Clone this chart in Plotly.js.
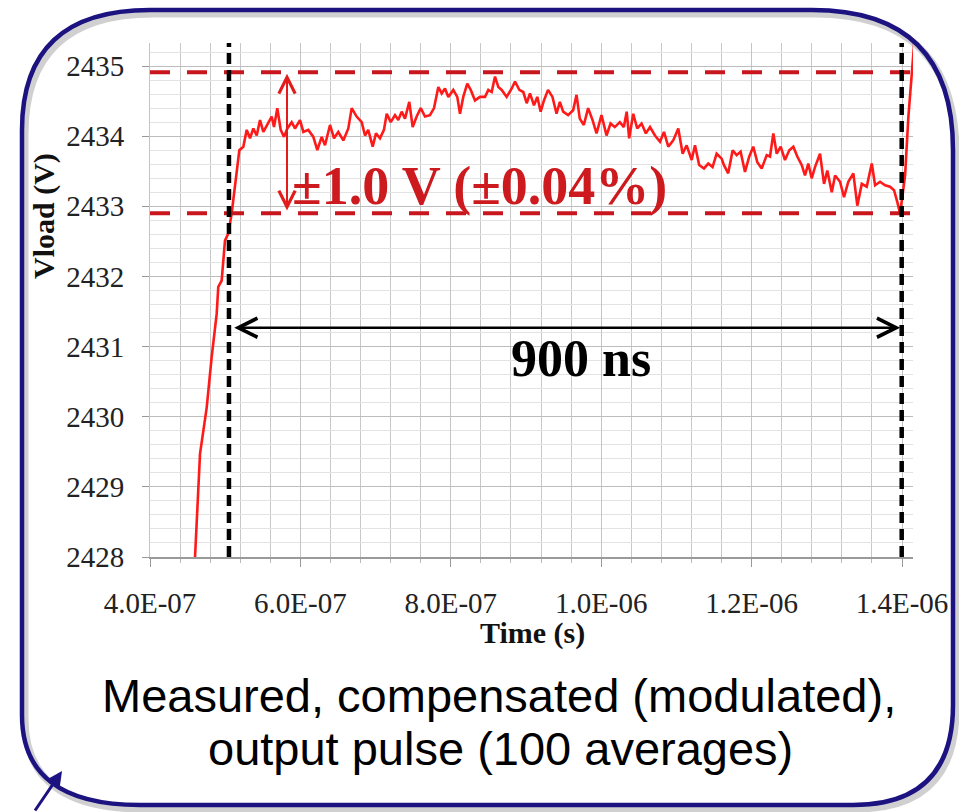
<!DOCTYPE html>
<html>
<head>
<meta charset="utf-8">
<script src="https://cdn.plot.ly/plotly-3.0.1.min.js"></script>
<style>html,body{margin:0;padding:0;background:#fff;}#chart{width:959px;height:812px;}</style>
</head>
<body>
<div id="chart"></div>
<script>
// ---- data (time in ns, voltage in V) ----
const timeNs = [455.9, 459.8, 466.5, 475.4, 482.0, 488.7, 490.8, 495.3, 499.7, 504.1,
  508.6, 511.7, 518.8, 524.1, 528.6, 533.0, 537.4, 541.9, 546.3, 550.7,
  555.9, 561.8, 564.9, 569.3, 573.8, 578.2, 582.6, 588.4, 592.8, 599.5,
  603.9, 610.5, 617.2, 622.5, 628.3, 632.7, 639.4, 644.7, 650.4, 657.1,
  663.7, 668.2, 674.8, 681.5, 685.9, 690.2, 696.1, 700.5, 705.8, 711.1,
  714.8, 720.1, 725.8, 730.2, 734.7, 739.1, 744.8, 749.3, 754.6, 760.0,
  765.7, 772.3, 777.7, 783.4, 787.9, 792.3, 796.7, 803.3, 808.6, 812.2,
  816.6, 821.9, 826.5, 832.2, 838.8, 845.5, 849.9, 854.4, 858.8, 863.2,
  867.7, 874.3, 881.0, 885.4, 891.1, 896.4, 900.9, 905.3, 910.6, 915.0,
  919.5, 923.9, 929.3, 935.2, 940.6, 945.0, 949.4, 956.0, 962.7, 967.2,
  971.5, 976.9, 982.6, 988.5, 993.8, 1000.4, 1007.1, 1012.4, 1018.1, 1024.8,
  1030.1, 1033.9, 1037.2, 1042.6, 1047.9, 1053.7, 1059.4, 1064.9, 1071.5, 1078.2,
  1083.5, 1089.2, 1095.8, 1102.5, 1108.3, 1113.6, 1120.3, 1124.7, 1130.3, 1136.7,
  1142.4, 1148.1, 1153.5, 1160.2, 1163.1, 1168.9, 1174.8, 1180.1, 1185.4, 1191.2,
  1196.9, 1202.2, 1207.6, 1213.4, 1220.1, 1224.5, 1228.9, 1233.4, 1238.7, 1244.4,
  1250.1, 1255.5, 1260.8, 1266.6, 1271.0, 1275.4, 1279.9, 1284.3, 1291.0, 1296.3,
  1300.7, 1306.6, 1311.0, 1317.6, 1322.9, 1328.6, 1335.3, 1340.6, 1346.5, 1353.1,
  1359.8, 1364.2, 1370.8, 1377.5, 1384.1, 1389.4, 1393.8, 1397.4, 1401.0, 1404.1,
  1408.5, 1413.0, 1417.5];
const vload = [2427.37, 2427.98, 2429.47, 2430.13, 2430.85, 2431.47, 2431.85, 2431.94, 2432.51, 2432.61,
  2432.90, 2433.16, 2433.80, 2433.85, 2434.09, 2433.97, 2434.11, 2434.01, 2434.23, 2434.06,
  2434.16, 2434.28, 2434.13, 2434.40, 2434.09, 2433.99, 2434.11, 2434.20, 2434.11, 2434.23,
  2434.06, 2434.09, 2433.99, 2433.80, 2433.99, 2433.87, 2434.16, 2433.97, 2434.06, 2433.94,
  2434.11, 2434.40, 2434.28, 2434.20, 2434.01, 2434.09, 2433.85, 2434.04, 2433.97, 2434.09,
  2434.32, 2434.20, 2434.30, 2434.23, 2434.35, 2434.25, 2434.49, 2434.13, 2434.28, 2434.40,
  2434.28, 2434.30, 2434.40, 2434.70, 2434.61, 2434.68, 2434.56, 2434.66, 2434.56, 2434.32,
  2434.56, 2434.75, 2434.66, 2434.51, 2434.56, 2434.56, 2434.66, 2434.63, 2434.85, 2434.70,
  2434.66, 2434.56, 2434.68, 2434.78, 2434.66, 2434.63, 2434.47, 2434.61, 2434.44, 2434.56,
  2434.35, 2434.51, 2434.66, 2434.56, 2434.32, 2434.49, 2434.35, 2434.30, 2434.37, 2434.59,
  2434.25, 2434.16, 2434.40, 2434.23, 2434.04, 2434.30, 2434.01, 2434.18, 2434.13, 2434.20,
  2434.13, 2434.35, 2433.97, 2434.32, 2434.11, 2434.18, 2434.04, 2434.13, 2434.01, 2433.92,
  2434.06, 2433.85, 2433.94, 2434.11, 2433.75, 2433.87, 2433.66, 2433.87, 2433.59, 2433.54,
  2433.61, 2433.56, 2433.75, 2433.68, 2433.59, 2433.47, 2433.80, 2433.73, 2433.78, 2433.49,
  2433.71, 2433.85, 2433.63, 2433.54, 2433.73, 2433.71, 2434.04, 2433.75, 2433.85, 2433.66,
  2433.80, 2433.85, 2433.71, 2433.59, 2433.44, 2433.61, 2433.40, 2433.56, 2433.75, 2433.32,
  2433.51, 2433.20, 2433.44, 2433.35, 2433.13, 2433.35, 2433.47, 2433.01, 2433.32, 2433.28,
  2433.61, 2433.30, 2433.35, 2433.30, 2433.28, 2433.23, 2433.06, 2432.90, 2433.18, 2433.44,
  2434.28, 2434.90, 2435.50];

const xTickVals = [4.0e-7, 6.0e-7, 8.0e-7, 1.0e-6, 1.2e-6, 1.4e-6];
const xTickText = ['4.0E-07', '6.0E-07', '8.0E-07', '1.0E-06', '1.2E-06', '1.4E-06'];
const yTickVals = [2428, 2429, 2430, 2431, 2432, 2433, 2434, 2435];
const limitLevels = [2434.91, 2432.90];          // ±1.0 V band
const windowEdges = [5.05e-7, 1.3996e-6];         // 900 ns window
const bandArrowTime = 5.822e-7;
const windowArrowLevel = 2431.27;
const bandLabel = '±1.0 V (±0.04%)';
const windowLabel = '900 ns';
const xTitle = 'Time (s)';
const yTitle = 'Vload (V)';
const captionLines = ['Measured, compensated (modulated),', 'output pulse (100 averages)'];

// ---- layout geometry (pixels) ----
const W = 959, H = 812, L = 150, R = 913, T = 43, B = 557;
const px = (x) => (x - L) / (R - L);
const py = (y) => (B - y) / (B - T);
function framePath(dx, dy) {
  const p = (x, y) => px(x + dx).toFixed(5) + ',' + py(y + dy).toFixed(5);
  return 'M' + p(150, 10) + ' L' + p(812, 10) + ' Q' + p(953, 10) + ' ' + p(953, 150) +
    ' L' + p(953, 705) + ' Q' + p(953, 805) + ' ' + p(853, 805) +
    ' L' + p(140, 805) + ' Q' + p(22, 805) + ' ' + p(22, 715) +
    ' L' + p(22, 130) + ' Q' + p(22, 10) + ' ' + p(150, 10) + ' Z';
}

const serif = 'Liberation Serif, Times New Roman, serif';
const sans = 'Liberation Sans, Arial, sans-serif';
const navy = '#1c1380';

const trace = {
  x: timeNs.map(t => t * 1e-9),
  y: vload,
  type: 'scatter',
  mode: 'lines',
  line: {color: '#ff1a1a', width: 2.6},
  hoverinfo: 'skip'
};

const shapes = [];
shapes.push({type: 'path', xref: 'paper', yref: 'paper', path: framePath(3, 4),
  line: {color: 'rgba(120,120,120,0.35)', width: 7}, layer: 'above'});
shapes.push({type: 'path', xref: 'paper', yref: 'paper', path: framePath(0, 0),
  line: {color: navy, width: 4.5}, layer: 'above'});
limitLevels.forEach(v => shapes.push({type: 'line', xref: 'paper', yref: 'y', x0: 0, x1: 1, y0: v, y1: v,
  line: {color: '#c8161e', width: 4, dash: '20px,17px'}}));
windowEdges.forEach(t => shapes.push({type: 'line', xref: 'x', yref: 'paper', x0: t, x1: t, y0: 0, y1: 1,
  line: {color: '#000', width: 4.5, dash: '11px,6px'}}));

const center = {xanchor: 'center', yanchor: 'middle'};
const annotations = [
  {x: bandArrowTime, y: limitLevels[0] - 0.02, ax: bandArrowTime, ay: limitLevels[1] + 0.02,
   xref: 'x', yref: 'y', axref: 'x', ayref: 'y', text: '', showarrow: true,
   arrowhead: 5, startarrowhead: 5, arrowside: 'end+start', arrowsize: 1.6, startarrowsize: 1.6,
   arrowwidth: 2, arrowcolor: '#e21b1b'},
  {x: windowEdges[1] - 2e-9, y: windowArrowLevel, ax: windowEdges[0] + 5e-9, ay: windowArrowLevel,
   xref: 'x', yref: 'y', axref: 'x', ayref: 'y', text: '', showarrow: true,
   arrowhead: 5, startarrowhead: 5, arrowside: 'end+start', arrowsize: 1.5, startarrowsize: 1.5,
   arrowwidth: 2.5, arrowcolor: '#000'},
  Object.assign({x: 838.8e-9, y: 2433.29, xref: 'x', yref: 'y', text: bandLabel, showarrow: false,
   font: {family: serif, size: 54, color: '#cc1a1e', weight: 'bold'}}, center),
  Object.assign({x: 973.1e-9, y: 2430.83, xref: 'x', yref: 'y', text: windowLabel, showarrow: false,
   font: {family: serif, size: 52, color: '#000', weight: 'bold'}}, center),
  Object.assign({x: px(532), y: py(633), xref: 'paper', yref: 'paper', text: xTitle, showarrow: false,
   font: {family: serif, size: 30, color: '#111', weight: 'bold'}}, center),
  Object.assign({x: px(44), y: py(216), xref: 'paper', yref: 'paper', text: yTitle, showarrow: false, textangle: -90,
   font: {family: serif, size: 30, color: '#111', weight: 'bold'}}, center),
  Object.assign({x: px(499), y: py(695), xref: 'paper', yref: 'paper', text: captionLines[0], showarrow: false,
   font: {family: sans, size: 47, color: '#000'}}, center),
  Object.assign({x: px(500), y: py(748), xref: 'paper', yref: 'paper', text: captionLines[1], showarrow: false,
   font: {family: sans, size: 47, color: '#000'}}, center),
  {x: px(62), y: py(771), xref: 'paper', yref: 'paper', ax: -28, ay: 43, text: '', showarrow: true,
   arrowhead: 2, arrowsize: 1, arrowwidth: 3, arrowcolor: navy}
];

const layout = {
  width: W, height: H,
  margin: {l: L, r: W - R, t: T, b: H - B, pad: 0},
  paper_bgcolor: '#fff', plot_bgcolor: '#fff',
  showlegend: false,
  xaxis: {
    range: [4.0e-7, 4.0e-7 + (R - L) * 1e-6 / 752],
    tickmode: 'array', tickvals: xTickVals, ticktext: xTickText,
    tickfont: {family: serif, size: 29, color: '#222'},
    ticks: 'outside', ticklen: 8, tickcolor: '#999', tickwidth: 1,
    ticklabelstandoff: 12,
    showgrid: true, gridcolor: '#c4c4c4', gridwidth: 1,
    minor: {tickmode: 'linear', tick0: 4.0e-7, dtick: 4.0e-8, showgrid: true, gridcolor: '#c8c8c8',
            gridwidth: 1, ticks: 'outside', ticklen: 4, tickcolor: '#bbb'},
    showline: true, linecolor: '#9a9a9a', linewidth: 1.5,
    zeroline: false, fixedrange: true
  },
  yaxis: {
    range: [2428, 2435 + 23 / 70],
    tickmode: 'array', tickvals: yTickVals, ticktext: yTickVals.map(String),
    tickfont: {family: serif, size: 29, color: '#222'},
    ticks: 'outside', ticklen: 7, tickcolor: '#999', tickwidth: 1,
    ticklabelstandoff: 12,
    showgrid: true, gridcolor: '#bdbdbd', gridwidth: 1,
    minor: {tickmode: 'linear', tick0: 2428, dtick: 0.2, showgrid: true, gridcolor: '#e3e3e3', gridwidth: 1},
    showline: true, linecolor: '#c4c4c4', linewidth: 1,
    zeroline: false, fixedrange: true
  },
  shapes: shapes,
  annotations: annotations
};

Plotly.newPlot('chart', [trace], layout, {displayModeBar: false, staticPlot: true});
</script>
</body>
</html>
